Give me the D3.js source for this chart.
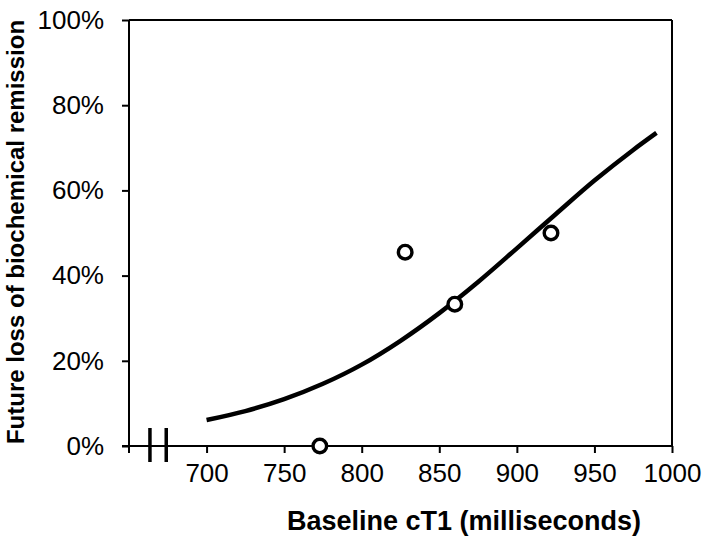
<!DOCTYPE html>
<html><head><meta charset="utf-8">
<script src="https://cdn.jsdelivr.net/npm/d3@7/dist/d3.min.js"></script>
<style>
html,body{margin:0;padding:0;background:#fff;}
svg{display:block;}
text{font-family:"Liberation Sans",Arial,sans-serif;fill:#000;}
</style></head>
<body>
<svg id="chart" width="709" height="542"></svg>
<script>
// Observed data points (baseline cT1 ms, proportion with future loss of remission)
const pointX = [773, 828, 860, 922];
const pointY = [0, 0.455, 0.333, 0.50];
// Fitted curve, values
const curveX = [700, 725, 750, 775, 800, 825, 850, 875, 900, 925, 950, 975, 990];
const curveY = [0.061, 0.082, 0.110, 0.146, 0.191, 0.247, 0.312, 0.385, 0.464, 0.544, 0.623, 0.695, 0.735];
const xTicks = [700, 750, 800, 850, 900, 950, 1000];
const yTicks = [0, 0.2, 0.4, 0.6, 0.8, 1.0];
const axisBreak = [663.5, 674];

(function () {
const svg = d3.select("#chart");
const mL = 129, mR = 672, mT = 20, mB = 446;
const x = d3.scaleLinear().domain([650, 1000]).range([mL, mR]);
const y = d3.scaleLinear().domain([0, 1]).range([mB, mT]);

// frame (top and right)
svg.append("line").attr("x1", mL).attr("x2", mR).attr("y1", mT).attr("y2", mT)
  .attr("stroke", "#000").attr("stroke-width", 2);
svg.append("line").attr("x1", mR).attr("x2", mR).attr("y1", mT).attr("y2", mB)
  .attr("stroke", "#000").attr("stroke-width", 2);

// y axis
const yAxis = svg.append("g").attr("transform", `translate(${mL},0)`)
  .call(d3.axisLeft(y).tickValues(yTicks).tickFormat(d3.format(".0%")).tickSize(7).tickPadding(18).tickSizeOuter(0));
yAxis.select(".domain").attr("stroke-width", 2).attr("d", `M0,${mT}V${mB + 7}`);
yAxis.selectAll(".tick line").attr("stroke-width", 2);
yAxis.selectAll(".tick text").attr("font-size", 26).attr("font-family", "Liberation Sans, Arial, sans-serif").attr("fill", "#000");

// x axis
const xAxis = svg.append("g").attr("transform", `translate(0,${mB})`)
  .call(d3.axisBottom(x).tickValues(xTicks).tickFormat(d3.format("d")).tickSize(7).tickPadding(11).tickSizeOuter(0));
xAxis.select(".domain").attr("stroke-width", 2).attr("d", `M${mL - 7},0H${mR}`);
xAxis.selectAll(".tick line").attr("stroke-width", 2);
xAxis.selectAll(".tick text").attr("font-size", 26).attr("font-family", "Liberation Sans, Arial, sans-serif").attr("fill", "#000");

// axis break marks
svg.selectAll(".brk").data(axisBreak).enter().append("line")
  .attr("x1", d => x(d)).attr("x2", d => x(d))
  .attr("y1", mB - 18).attr("y2", mB + 16)
  .attr("stroke", "#000").attr("stroke-width", 3.5);

// curve
const line = d3.line().x(d => x(d[0])).y(d => y(d[1])).curve(d3.curveMonotoneX);
svg.append("path").datum(curveX.map((v, i) => [v, curveY[i]]))
  .attr("d", line).attr("fill", "none").attr("stroke", "#000").attr("stroke-width", 4.5)
  .attr("stroke-linecap", "butt");

// points
svg.selectAll(".pt").data(pointX.map((v, i) => [v, pointY[i]])).enter().append("circle")
  .attr("cx", d => x(d[0])).attr("cy", d => y(d[1])).attr("r", 6.8)
  .attr("fill", "#fff").attr("stroke", "#000").attr("stroke-width", 3.4);

// axis titles
svg.append("text").attr("x", 464).attr("y", 530).attr("text-anchor", "middle")
  .attr("font-size", 27).attr("font-weight", "bold").text("Baseline cT1 (milliseconds)");
svg.append("text").attr("transform", "translate(24,232) rotate(-90)").attr("text-anchor", "middle")
  .attr("font-size", 24).attr("font-weight", "bold").text("Future loss of biochemical remission");
})();
</script>
</body></html>
